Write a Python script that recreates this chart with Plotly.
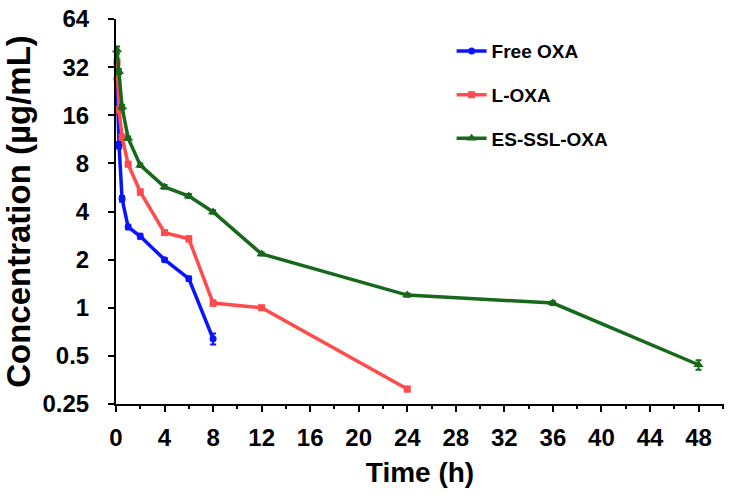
import numpy as np
import plotly.graph_objects as go

# sampling times (h)
t_free = [0.083, 0.25, 0.5, 1, 2, 4, 6, 8]
t_lip = [0.083, 0.25, 0.5, 1, 2, 4, 6, 8, 12, 24]
t_ssl = [0.083, 0.25, 0.5, 1, 2, 4, 6, 8, 12, 24, 36, 48]

# concentration (ug/mL)
free_oxa = [27.0, 10.4, 4.8, 3.2, 2.8, 2.0, 1.52, 0.64]
free_err = [0.8, 0.5, 0.2, 0.1, 0.1, 0.05, 0.05, 0.05]
l_oxa = [34.5, 17.3, 11.7, 7.9, 5.3, 2.95, 2.7, 1.07, 1.0, 0.31]
l_err = [1.0, 0.6, 0.4, 0.2, 0.2, 0.1, 0.1, 0.04, 0.03, 0.01]
ssl_oxa = [41.0, 30.0, 18.0, 11.5, 7.8, 5.7, 5.0, 3.97, 2.17, 1.2, 1.07, 0.44]
ssl_err = [2.0, 1.0, 0.6, 0.3, 0.2, 0.15, 0.15, 0.1, 0.05, 0.03, 0.03, 0.03]

x_ticks = list(range(0, 49, 4))
y_ticks = [0.25, 0.5, 1, 2, 4, 8, 16, 32, 64]
y_labels = ["0.25", "0.5", "1", "2", "4", "8", "16", "32", "64"]

FONT = "Arial, Liberation Sans, sans-serif"

series = [
    ("Free OXA", t_free, free_oxa, free_err, "#0a14ff", "circle", 7),
    ("L-OXA", t_lip, l_oxa, l_err, "#ff4b4b", "square", 7),
    ("ES-SSL-OXA", t_ssl, ssl_oxa, ssl_err, "#17681a", "triangle-up", 9),
]

fig = go.Figure()
for name, t, c, e, col, sym, size in series:
    fig.add_trace(go.Scatter(
        x=t, y=c, name=f"<b>{name}</b>", mode="lines+markers", legendgroup=name,
        line=dict(color=col, width=3.5),
        marker=dict(color=col, symbol=sym, size=size),
        error_y=dict(type="data", array=e, color=col, thickness=2, width=3),
        cliponaxis=False,
    ))

fig.update_layout(
    width=735, height=498,
    margin=dict(l=116, r=11, t=19, b=94),
    plot_bgcolor="white", paper_bgcolor="white",
    font=dict(family=FONT, color="black"),
    legend=dict(
        x=0.552, y=0.966, xanchor="left", yanchor="top",
        font=dict(size=19, family=FONT),
        tracegroupgap=16, bgcolor="rgba(0,0,0,0)",
    ),
)
fig.update_xaxes(
    range=[0, 50.1], tickvals=x_ticks, ticktext=[f"<b>{v}</b>" for v in x_ticks],
    showline=True, linecolor="black", linewidth=2,
    ticks="outside", ticklen=6, tickwidth=2, tickcolor="black",
    minor=dict(tickvals=list(range(2, 51, 4)), ticks="outside", ticklen=3,
               tickwidth=2, tickcolor="black"),
    showgrid=False, zeroline=False, automargin=False,
    tickfont=dict(size=24, family=FONT), ticklabelstandoff=5,
    title=dict(text="<b>Time (h)</b>", font=dict(size=28), standoff=13),
)
fig.update_yaxes(
    type="log", range=[np.log10(0.25), np.log10(64)],
    tickvals=y_ticks, ticktext=[f"<b>{s}</b>" for s in y_labels],
    showline=True, linecolor="black", linewidth=2,
    ticks="outside", ticklen=6, tickwidth=2, tickcolor="black",
    showgrid=False, zeroline=False, automargin=False,
    tickfont=dict(size=24, family=FONT), ticklabelstandoff=14,
    title=dict(text="<b>Concentration (µg/mL)</b>", font=dict(size=33), standoff=8),
)

# drop the default page margin so the figure sits at the window's origin
fig.write_html("out.html", config={"displayModeBar": False},
               post_script="document.body.style.margin='0';")
